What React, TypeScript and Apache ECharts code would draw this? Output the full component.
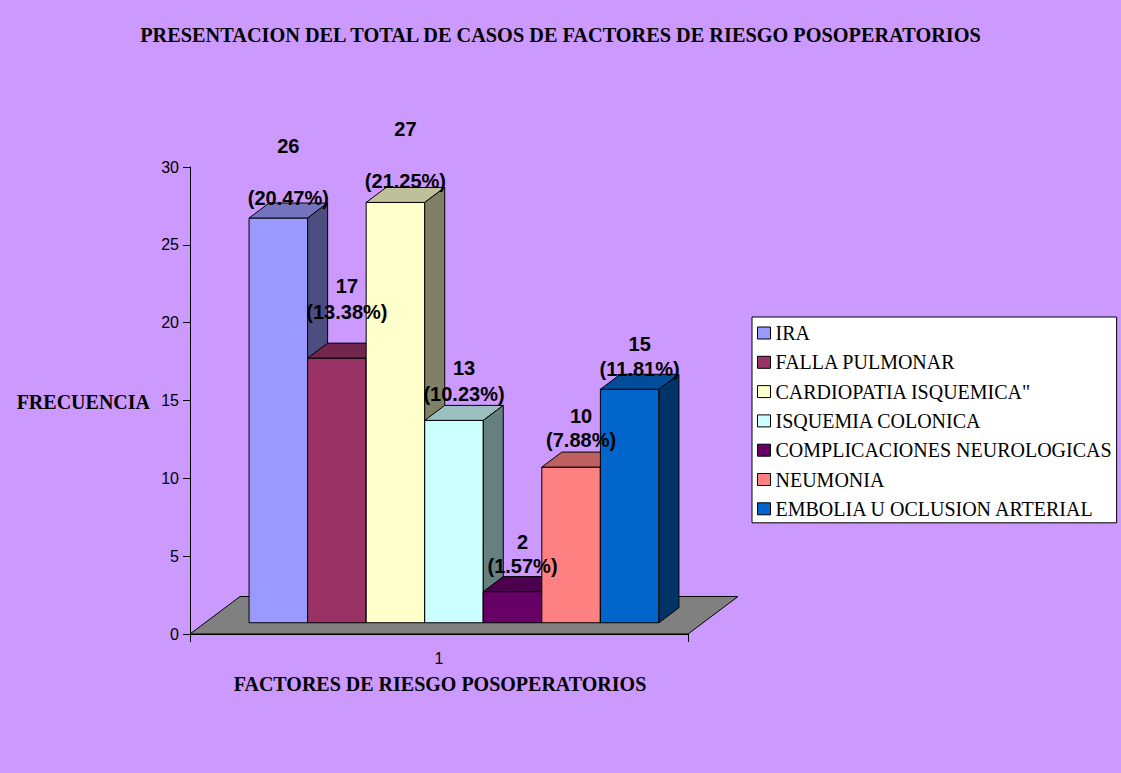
import React, { useEffect, useRef } from "react";
import * as echarts from "echarts";

const TITLE = "PRESENTACION DEL TOTAL DE CASOS DE FACTORES DE RIESGO POSOPERATORIOS";
const X_NAME = "FACTORES DE RIESGO POSOPERATORIOS";
const Y_NAME = "FRECUENCIA";
const X_CATEGORIES = ["1"];
const CATEGORIES = [
  "IRA",
  "FALLA PULMONAR",
  'CARDIOPATIA ISQUEMICA"',
  "ISQUEMIA COLONICA",
  "COMPLICACIONES NEUROLOGICAS",
  "NEUMONIA",
  "EMBOLIA U OCLUSION ARTERIAL",
];
const VALUES = [26, 17, 27, 13, 2, 10, 15];
const PERCENTS = [20.47, 13.38, 21.25, 10.23, 1.57, 7.88, 11.81];
const Y_MIN = 0;
const Y_MAX = 30;
const Y_INTERVAL = 5;

// styles
const FRONT = ["#9999FF", "#993366", "#FFFFCC", "#CCFFFF", "#660066", "#FF8080", "#0066CC"];
const TOP = ["#7373BF", "#73264D", "#BFBF99", "#99BFBF", "#4D004D", "#BF6060", "#004D99"];
const SIDE = ["#4D4D80", "#4D1A33", "#808066", "#668080", "#330033", "#804040", "#003366"];
// layout of the pseudo-3D projection
const DEPTH_X = 50;
const DEPTH_Y = -37.5;
const BAR_FRONT = 0.3;
const BAR_DEPTH = 0.4;
const BARS_SPAN = 0.823;
// label placement (px above the back edge of the top face, gap between lines)
const PCT_LIFT = [5, 31, 6, 11, 11, 12, 5];
const LINE_GAP = [52, 26, 52, 26, 24, 24, 25];

const SERIF = "'Liberation Serif', 'Times New Roman', serif";
const SANS = "'Liberation Sans', Arial, sans-serif";

export default function App() {
  const ref = useRef<HTMLDivElement>(null);
  useEffect(() => {
    if (!ref.current) return;
    const chart = echarts.init(ref.current, null, { renderer: "svg" });
    const n = CATEGORIES.length;

    const barSeries = CATEGORIES.map((name, i) => ({
      type: "custom",
      name,
      z: 2,
      itemStyle: { color: FRONT[i] },
      encode: { x: 0, y: 1 },
      data: [[0, VALUES[i]]],
      renderItem: (params: any, api: any) => {
        const base = api.coord([0, 0]);
        const top = api.coord([0, api.value(1)]);
        const band = api.size([1, 0])[0];
        const total = band * BARS_SPAN;
        const bw = total / n;
        const fx = base[0] - total / 2 + i * bw + BAR_FRONT * DEPTH_X;
        const by = base[1] + BAR_FRONT * DEPTH_Y;
        const ty = top[1] + BAR_FRONT * DEPTH_Y;
        const ddx = BAR_DEPTH * DEPTH_X;
        const ddy = BAR_DEPTH * DEPTH_Y;
        const stroke = { stroke: "#000", lineWidth: 1, lineJoin: "round" };
        const cx = fx + bw / 2 + ddx / 2;
        const pctY = ty + ddy - PCT_LIFT[i];
        return {
          type: "group",
          children: [
            {
              type: "rect",
              z2: i * 3,
              shape: { x: fx, y: ty, width: bw, height: by - ty },
              style: { fill: FRONT[i], ...stroke },
            },
            {
              type: "polygon",
              z2: i * 3 + 1,
              shape: {
                points: [
                  [fx, ty],
                  [fx + bw, ty],
                  [fx + bw + ddx, ty + ddy],
                  [fx + ddx, ty + ddy],
                ],
              },
              style: { fill: TOP[i], ...stroke },
            },
            {
              type: "polygon",
              z2: i * 3 + 2,
              shape: {
                points: [
                  [fx + bw, ty],
                  [fx + bw + ddx, ty + ddy],
                  [fx + bw + ddx, by + ddy],
                  [fx + bw, by],
                ],
              },
              style: { fill: SIDE[i], ...stroke },
            },
            {
              type: "text",
              z2: 100,
              x: cx,
              y: pctY - LINE_GAP[i],
              style: {
                text: String(VALUES[i]),
                fill: "#000",
                font: `bold 20px ${SANS}`,
                align: "center",
                verticalAlign: "middle",
              },
            },
            {
              type: "text",
              z2: 100,
              x: cx,
              y: pctY,
              style: {
                text: `(${PERCENTS[i].toFixed(2)}%)`,
                fill: "#000",
                font: `bold 20px ${SANS}`,
                align: "center",
                verticalAlign: "middle",
              },
            },
          ],
        };
      },
    }));

    const floorSeries = {
      type: "custom",
      name: "floor",
      z: 1,
      silent: true,
      encode: { x: 0, y: 1 },
      data: [[0, 0]],
      renderItem: (params: any, api: any) => {
        const base = api.coord([0, 0]);
        const band = api.size([1, 0])[0];
        const l = base[0] - band / 2;
        const r = base[0] + band / 2;
        const y = base[1];
        return {
          type: "polygon",
          shape: {
            points: [
              [l, y],
              [r, y],
              [r + DEPTH_X, y + DEPTH_Y],
              [l + DEPTH_X, y + DEPTH_Y],
            ],
          },
          style: { fill: "#808080", stroke: "#000", lineWidth: 1 },
        };
      },
    };

    chart.setOption({
      animation: false,
      backgroundColor: "#CC99FF",
      title: {
        text: TITLE,
        left: "center",
        top: 25,
        padding: 0,
        textStyle: { fontFamily: SERIF, fontWeight: "bold", fontSize: 20.3, color: "#000" },
      },
      grid: { left: 190, top: 167, width: 498, height: 467, containLabel: false },
      xAxis: {
        type: "category",
        data: X_CATEGORIES,
        axisLine: { lineStyle: { color: "#000", width: 1 } },
        axisTick: { show: true, length: 8, lineStyle: { color: "#000" } },
        axisLabel: { margin: 16, fontFamily: SANS, fontSize: 16, color: "#000" },
        splitLine: { show: false },
      },
      yAxis: {
        type: "value",
        min: Y_MIN,
        max: Y_MAX,
        interval: Y_INTERVAL,
        axisLine: { show: true, lineStyle: { color: "#000", width: 1 } },
        axisTick: { show: true, length: 7, lineStyle: { color: "#000" } },
        axisLabel: { margin: 11, fontFamily: SANS, fontSize: 16, color: "#000" },
        splitLine: { show: false },
      },
      legend: {
        data: CATEGORIES,
        orient: "vertical",
        left: 752,
        top: 317,
        icon: "rect",
        itemWidth: 13,
        itemHeight: 12,
        itemGap: 9.3,
        padding: [6, 5, 4, 5],
        backgroundColor: "#FFFFFF",
        borderColor: "#000",
        borderWidth: 1,
        borderRadius: 0,
        itemStyle: { borderColor: "#000", borderWidth: 1 },
        textStyle: { fontFamily: SERIF, fontSize: 20, color: "#000", padding: [0, 0, 0, 0] },
        selectedMode: false,
      },
      graphic: [
        {
          type: "text",
          x: 150,
          y: 401.5,
          style: {
            text: Y_NAME,
            font: `bold 20px ${SERIF}`,
            fill: "#000",
            align: "right",
            verticalAlign: "middle",
          },
        },
        {
          type: "text",
          x: 440,
          y: 684,
          style: {
            text: X_NAME,
            font: `bold 20px ${SERIF}`,
            fill: "#000",
            align: "center",
            verticalAlign: "middle",
          },
        },
      ],
      series: [floorSeries, ...barSeries],
    });
    return () => chart.dispose();
  }, []);
  return (
    <div
      ref={ref}
      style={{ position: "fixed", left: 0, top: 0, width: 1121, height: 773 }}
    />
  );
}
